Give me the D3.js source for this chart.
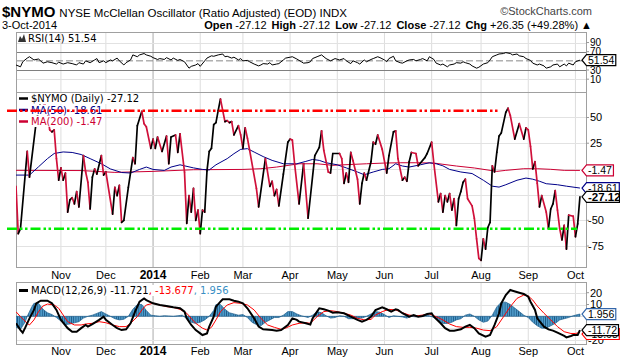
<!DOCTYPE html>
<html>
<head>
<meta charset="utf-8">
<script src="https://cdn.jsdelivr.net/npm/d3@7"></script>
<style>
  body { margin: 0; background: #fff; }
  svg { display: block; }
  text { font-family: "Liberation Sans", Arial, sans-serif; }
  .leg { font-family: "DejaVu Sans", sans-serif; font-size: 10px; }
</style>
</head>
<body>
<svg id="chart" width="620" height="360"></svg>
<script>
// $NYMO daily, [session number from 4-Oct-2013, value], turning points
const nymo = [
  [0,-17],[1,-63],[2,-58],[5,17],[6,-8],[9,46],[11,66],[13,62],[14,55],[15,38],[16,36],[17,38],
  [18,10],[19,-11],[20,1],[21,-11],[22,-4],[23,-42],[24,-30],[25,-28],[26,-34],[27,-22],[28,-37],
  [30,13],[31,-3],[32,-13],[33,-39],[34,-8],[35,0],[36,-5],[38,13],[39,-6],[40,-3],[43,-44],
  [44,-18],[45,-26],[46,-16],[47,-52],[48,-50],[50,-18],[52,11],[53,5],[54,42],[56,56],[57,44],
  [58,41],[60,20],[61,29],[62,20],[63,31],[65,17],[67,32],[68,5],[69,31],[71,33],[72,16],[73,34],
  [75,-3],[76,-53],[77,-26],[78,-42],[79,-19],[80,-50],[81,-40],[82,-63],[83,-40],[84,-42],[85,-2],
  [86,17],[87,20],[88,43],[89,45],[90,57],[91,68],[92,57],[93,46],[94,47],[95,45],[96,46],[97,33],
  [99,42],[100,33],[101,20],[102,40],[103,30],[104,18],[107,-19],[108,-37],[111,10],[113,-17],
  [114,-12],[115,-26],[116,-20],[117,-36],[119,-5],[121,26],[122,29],[123,28],[124,5],[126,-34],
  [128,5],[130,-48],[133,13],[135,21],[136,37],[137,18],[139,-3],[140,-4],[141,15],[144,15],
  [145,10],[146,-14],[147,-4],[148,-13],[149,16],[150,8],[152,-10],[153,-34],[154,-14],[155,-4],
  [156,-11],[158,7],[159,26],[160,24],[161,33],[163,19],[165,-4],[166,13],[168,36],[169,37],
  [170,10],[172,-11],[173,-8],[174,-12],[175,7],[176,16],[178,15],[179,3],[182,11],[183,15],
  [185,26],[186,5],[188,-32],[189,-24],[190,-42],[191,-26],[192,-32],[193,-24],[194,-40],[195,-29],
  [196,-55],[197,-29],[198,-22],[199,-13],[200,-10],[201,-29],[203,-36],[204,-48],[205,-68],
  [206,-87],[207,-89],[208,-68],[209,-78],[210,-57],[211,-52],[212,3],[213,-3],[214,16],[215,32],
  [216,35],[218,55],[219,59],[220,52],[222,29],[224,44],[226,29],[227,40],[228,38],[229,22],
  [230,0],[231,7],[232,-14],[233,-37],[234,-26],[236,-42],[237,-58],[238,-39],[239,-34],[240,-21],
  [241,-40],[242,-58],[243,-69],[244,-55],[245,-78],[246,-45],[248,-46],[249,-66],[250,-53.47],
  [251,-27.12]
];

const ma50 = [
  [0,-6],[6,-6],[10,2],[14,10],[17,15],[21,16.5],[25,16],[29,14],[33,10],[38,5],[42,0],[47,-3.5],
  [51,-4],[55,-0.5],[58,1.8],[61,-0.5],[66,-1.5],[69,1.8],[73,4],[79,1],[83,-0.5],[86,-1],[89,4],
  [94,10],[97,14.8],[100,19],[103,19.7],[106,16.4],[110,12],[114,8.3],[119,5],[125,5],[129,7.3],
  [132,9.2],[135,8.3],[138,6],[143,4],[147,1],[152,-3],[155,-5.7],[159,-3],[163,-0.5],[166,0.2],
  [169,5],[172,2.8],[175,1.8],[180,4],[184,6],[187,5],[190,3],[193,-0.5],[198,-3],[203,-4.5],
  [208,-11],[212,-16.8],[215,-17.7],[218,-15.4],[223,-11],[227,-8.9],[230,-10],[233,-12],
  [236,-14.4],[241,-15.4],[245,-16.8],[251,-18.61]
];

const ma200 = [
  [0,-1.4],[29,-1.6],[44,-3.4],[51,-3],[61,-2.4],[79,-0.8],[101,-0.5],[109,0.2],[116,1.8],
  [126,5],[134,5],[141,3.5],[156,5],[164,5.7],[171,6],[178,6],[186,5.7],[190,4.5],[196,2.8],
  [204,0.9],[211,-1.4],[214,-2.4],[218,-1.4],[226,0.2],[232,0.2],[238,-0.4],[244,-1.4],[251,-1.47]
];

// user drawn horizontal lines: value, first and last session
const annotations = [
  { value: 56.6, from: -4, to: 215.5, color: '#ff0000' },
  { value: -58.2, from: -4, to: 249.7, color: '#00ee00' }
];

const rsi = [
  [0,41],[2,37],[3,48],[5,56],[6,59],[8,52],[10,54],[11,50],[12,45],[14,48],[16,46],[18,43],
  [19,47],[21,43],[23,46],[25,44],[27,41],[28,46],[30,43],[31,50],[33,46],[35,52],[36,55],[37,46],
  [39,50],[40,46],[42,52],[43,50],[45,56],[46,50],[48,41],[49,46],[51,52],[52,63],[54,59],[55,63],
  [57,66],[58,63],[60,60],[61,57],[63,53],[64,55],[66,53],[67,57],[69,52],[70,56],[72,51],[73,53],
  [75,48],[76,41],[77,34],[78,38],[80,41],[81,44],[82,38],[84,50],[85,56],[87,61],[88,60],[90,63],
  [92,65],[93,59],[94,60],[96,56],[97,58],[99,52],[100,55],[101,50],[103,51],[104,48],[106,43],
  [108,39],[109,41],[110,44],[112,43],[113,46],[114,41],[116,43],[117,44],[119,52],[120,56],
  [122,58],[123,59],[125,54],[127,48],[128,45],[130,46],[131,48],[132,55],[134,59],[136,63],
  [138,55],[140,50],[142,55],[144,52],[146,55],[147,50],[149,44],[150,50],[152,46],[153,43],
  [155,52],[156,48],[158,53],[159,55],[161,59],[162,57],[164,52],[165,48],[166,55],[168,60],
  [169,50],[171,46],[172,45],[174,50],[175,52],[177,53],[178,50],[180,53],[181,55],[183,50],
  [184,59],[186,53],[187,45],[189,41],[190,43],[192,37],[193,41],[195,43],[196,46],[198,45],
  [199,48],[200,46],[202,43],[203,39],[205,34],[206,36],[208,43],[210,46],[211,52],[212,59],
  [214,63],[215,65],[217,66],[218,68],[220,66],[221,63],[223,65],[224,61],[226,59],[227,55],
  [229,51],[230,45],[232,41],[233,43],[235,39],[236,34],[238,37],[239,41],[241,43],[242,37],
  [244,43],[245,39],[246,45],[248,41],[249,48],[251,51.54]
];

const macd = [
  [0,-5.9],[2,-11.6],[3,-13.8],[4,-10],[6,-1.7],[8,5.4],[9,11],[11,13.2],[14,13.2],[16,11],
  [18,5.4],[20,-3],[23,-10],[25,-13],[27,-13],[29,-10],[31,-7.3],[32,-8.7],[34,-6.5],[37,-3],
  [39,-0.3],[40,-3],[43,-7.3],[45,-10],[47,-11.6],[49,-11],[51,-5.9],[53,4],[55,12.4],[57,15.2],
  [58,13.8],[61,11],[64,9.6],[67,8.7],[70,7.6],[73,6.8],[75,4],[76,-1.7],[78,-7.3],[80,-11.6],
  [82,-14.4],[83,-15.8],[85,-14.4],[86,-8.7],[88,-0.3],[89,8.2],[91,12.4],[92,14.4],[95,14.4],
  [97,13.2],[99,12.4],[101,11],[103,6.8],[106,-1.7],[108,-8.7],[110,-11],[114,-11.6],[116,-12.1],
  [118,-11.6],[121,-7.3],[123,-1.7],[125,-3],[126,-4.5],[129,-5.9],[131,-7],[132,-1.7],[134,4],
  [135,6.8],[137,6],[139,4.8],[141,3.1],[143,3.5],[146,2.6],[149,-0.3],[152,-3],[154,-4.5],
  [156,-3],[158,-0.3],[160,5.4],[163,7.6],[165,6],[167,4],[169,5.9],[170,5.5],[172,2.6],[175,-0.3],
  [177,1.1],[179,-0.3],[181,0.3],[183,2],[185,2.6],[186,-0.3],[189,-5.9],[191,-10],[193,-12.1],
  [195,-12.1],[198,-11],[200,-8.7],[202,-7.3],[204,-10],[206,-14.4],[209,-17.2],[211,-15.8],
  [213,-7.3],[215,2.6],[216,11],[218,18],[220,22.3],[221,21.7],[224,20],[226,18.9],[228,16.6],
  [229,12.4],[231,5.4],[232,-1.7],[235,-8.7],[237,-11],[239,-12.1],[241,-13.8],[244,-16.6],
  [245,-17.8],[247,-16.6],[248,-15.8],[250,-15.8],[251,-11.721]
];

const signal = [
  [0,3.9],[2,-0.3],[5,-5.9],[6,-7.3],[8,-3],[10,3.9],[12,8.7],[14,10.4],[17,9.6],[19,6.8],[21,1.1],
  [23,-4.5],[26,-7.3],[29,-7.3],[31,-6.5],[34,-5.9],[37,-4.5],[40,-5.4],[43,-7.3],[46,-8.7],
  [49,-8.7],[51,-5.9],[54,-0.3],[56,5.4],[58,9.6],[61,11],[64,9.6],[67,8.2],[70,7.6],[73,5.9],
  [76,2.6],[78,-1.7],[80,-5.9],[83,-10],[85,-11.6],[87,-9.3],[89,-3],[91,3.9],[94,9.6],[97,11.6],
  [100,11],[103,9.6],[106,5.4],[109,-1.7],[112,-7.3],[115,-9.3],[118,-11],[120,-10],[123,-7.3],
  [126,-5.9],[129,-5.4],[131,-5.9],[134,-0.3],[137,4],[140,4.8],[143,4],[146,2.6],[149,1.1],
  [152,-1.7],[155,-3],[158,-2.6],[160,1.1],[163,4],[166,5.9],[169,5.4],[172,3.1],[175,1.1],
  [178,0.3],[181,1.1],[184,2],[187,-0.3],[190,-3],[193,-6.5],[196,-8.7],[199,-9.3],[202,-9.3],
  [205,-10],[208,-11.6],[211,-12.1],[214,-8.7],[217,-0.3],[220,8.2],[223,15.2],[226,18],[228,17.2],
  [230,13.8],[232,8.7],[235,2.6],[238,-3],[241,-8.7],[244,-13],[247,-14.5],[249,-14.5],[251,-13.677]
];

const hist = [
  [0,-9],[2,-11],[4,-5],[5,0],[7,8],[8,11],[10,11],[12,6],[14,3],[16,1.5],[18,-1],[20,-4],[22,-7],
  [24,-6.5],[26,-5.5],[28,-4.5],[30,-1.5],[32,0],[34,1],[36,2.5],[38,4],[40,2],[42,0],[44,-2],
  [46,-3],[48,-2.5],[50,0],[52,6],[54,10],[56,10],[58,5],[60,1],[62,0.5],[64,0],[66,0.5],[68,0.3],
  [70,0],[72,0.5],[74,1],[76,-2],[78,-5],[80,-6],[82,-5],[84,-3],[86,0],[88,5],[89,10],[91,10],
  [93,6],[95,3],[97,2],[99,1],[101,1.5],[103,-1],[105,-5],[107,-7],[109,-8],[111,-5],[113,-3],
  [115,-1],[117,-1],[119,1],[121,4],[123,4],[125,2],[127,0.5],[129,-0.5],[130,-1],[132,1],[134,4],
  [136,3],[138,0.5],[140,-1.5],[142,-1],[144,0.5],[146,0],[148,-2],[150,-2],[152,-1.5],[154,-1.5],
  [156,0],[158,2],[160,4],[162,3.5],[164,1.5],[166,-1],[168,0.5],[170,0],[172,-0.5],[174,-1.5],
  [176,0],[178,-0.5],[180,0],[182,1],[184,0.5],[186,-1],[188,-4],[190,-6],[192,-6],[194,-5],
  [196,-3],[198,-2],[200,1],[202,2],[204,0],[206,-3],[208,-5],[210,-4],[212,1],[214,8],[216,12],
  [218,12],[220,10],[222,7],[224,4],[226,1],[228,-1],[230,-5],[232,-8],[234,-10],[236,-10],
  [238,-8],[240,-6],[242,-3],[244,-2],[246,-1],[248,0.5],[250,1.5],[251,1.956]
];

const mainTicks = [50, 25, 0, -25, -50, -75];
const rsiTicks = [90, 70, 30, 10];
const macdTicks = [20, 10, 0, -10, -20];
const holidays = ['2013-11-28','2013-12-25','2014-01-01','2014-01-20','2014-02-17',
                  '2014-04-18','2014-05-26','2014-07-04','2014-09-01'];

const svg = d3.select('#chart');
const L = 16, R = 586;
const P = { rsi: [32, 92], main: [92, 267], macd: [282, 344] };

// trading calendar -> month gridlines
const fmt = d3.timeFormat('%Y-%m-%d');
const sessions = d3.timeDay.range(new Date(2013, 9, 4), new Date(2014, 9, 4))
  .filter(d => d.getDay() % 6 !== 0 && !holidays.includes(fmt(d)));
const months = sessions.map((d, i) => ({ d, i }))
  .filter((s, k, a) => k > 0 && s.d.getMonth() !== a[k - 1].d.getMonth());

const x = d3.scaleLinear().domain([0, sessions.length - 1 + 2.7]).range([L, R]);
const yRsi = d3.scaleLinear().domain([-18, 113]).range([P.rsi[1], P.rsi[0]]);
const yMain = d3.scaleLinear().domain([-95.4, 74.8]).range([P.main[1], P.main[0]]);
const yMacd = d3.scaleLinear().domain([-23.4, 29.05]).range([P.macd[1], P.macd[0]]);
const step = x(1) - x(0);

const defs = svg.append('defs');
Object.entries(P).forEach(([k, p]) => {
  defs.append('clipPath').attr('id', 'clip-' + k).append('rect')
    .attr('x', L).attr('y', p[0]).attr('width', R - L).attr('height', p[1] - p[0]);
});
const pat = defs.append('pattern').attr('id', 'histPat').attr('patternUnits', 'userSpaceOnUse')
  .attr('x', x(0) - step / 2).attr('y', 0).attr('width', step).attr('height', 360);
pat.append('rect').attr('width', step).attr('height', 360).attr('fill', '#4f9ccb');
pat.append('rect').attr('width', 0.8).attr('height', 360).attr('fill', '#1c5884');

// ---- grid
const grid = svg.append('g');
[P.rsi, P.main, P.macd].forEach(p => {
  months.forEach(m => {
    grid.append('line').attr('x1', x(m.i)).attr('x2', x(m.i)).attr('y1', p[0]).attr('y2', p[1])
      .attr('stroke', m.d.getMonth() === 0 ? '#aaa' : '#ddd').attr('stroke-width', 1);
  });
});
function hgrid(scale, vals, color) {
  vals.forEach(v => grid.append('line').attr('x1', L).attr('x2', R)
    .attr('y1', Math.round(scale(v)) + 0.5).attr('y2', Math.round(scale(v)) + 0.5)
    .attr('stroke', color));
}
hgrid(yMain, mainTicks, '#e2e2e2');
hgrid(yMacd, macdTicks, '#e2e2e2');
hgrid(yRsi, [90, 10], '#e2e2e2');
hgrid(yRsi, [70, 30], '#808080');
grid.append('line').attr('x1', L).attr('x2', R).attr('y1', yRsi(50)).attr('y2', yRsi(50))
  .attr('stroke', '#888').attr('stroke-dasharray', '7,3');

// frames
const frame = svg.append('g').attr('stroke', '#a0a0a0').attr('fill', 'none');
[P.rsi, P.main, P.macd].forEach(p => {
  frame.append('rect').attr('x', L + 0.5).attr('y', p[0] + 0.5)
    .attr('width', R - L).attr('height', p[1] - p[0]);
});

const line = (sx, sy) => d3.line().x(d => sx(d[0])).y(d => sy(d[1]));

// ---- RSI panel
svg.append('path').datum(rsi).attr('d', line(x, yRsi)).attr('fill', 'none')
  .attr('stroke', '#000').attr('stroke-width', 1).attr('clip-path', 'url(#clip-rsi)');

// ---- main panel
const gm = svg.append('g').attr('clip-path', 'url(#clip-main)');
gm.append('path').datum(ma200).attr('d', line(x, yMain)).attr('fill', 'none')
  .attr('stroke', '#cc0033').attr('stroke-width', 1);
gm.append('path').datum(ma50).attr('d', line(x, yMain)).attr('fill', 'none')
  .attr('stroke', '#000088').attr('stroke-width', 1);
gm.selectAll('line.seg').data(d3.pairs(nymo)).join('line').attr('class', 'seg')
  .attr('x1', d => x(d[0][0])).attr('y1', d => yMain(d[0][1]))
  .attr('x2', d => x(d[1][0])).attr('y2', d => yMain(d[1][1]))
  .attr('stroke', d => d[1][1] >= d[0][1] ? '#000' : '#d0103a')
  .attr('stroke-width', 1.7).attr('stroke-linecap', 'round');

// ---- MACD panel
const gd = svg.append('g').attr('clip-path', 'url(#clip-macd)');
gd.append('path').datum(hist)
  .attr('d', d3.area().x(d => x(d[0])).y0(yMacd(0)).y1(d => yMacd(d[1])))
  .attr('fill', 'url(#histPat)').attr('stroke', '#1f5f8c').attr('stroke-width', 0.7);
gd.append('path').datum(signal).attr('d', line(x, yMacd)).attr('fill', 'none')
  .attr('stroke', '#ff0000').attr('stroke-width', 1);
gd.append('path').datum(macd).attr('d', line(x, yMacd)).attr('fill', 'none')
  .attr('stroke', '#000').attr('stroke-width', 2);

// ---- legends
function legendRow(yb, marker, parts, markerW) {
  const g = svg.append('g');
  const bg = g.append('rect').attr('fill', '#fff');
  if (marker) g.append('line').attr('x1', 19).attr('x2', 28).attr('y1', yb - 3.5).attr('y2', yb - 3.5)
    .attr('stroke', marker).attr('stroke-width', markerW || 2.5);
  const t = g.append('text').attr('class', 'leg').attr('x', 31).attr('y', yb);
  parts.forEach(p => t.append('tspan').attr('fill', p[1]).text(p[0]));
  const w = t.node().getComputedTextLength();
  bg.attr('x', 17).attr('y', yb - 9).attr('width', w + 16).attr('height', 11);
}
legendRow(102, '#000', [['$NYMO (Daily) -27.12', '#000']]);
legendRow(113.5, '#000088', [['MA(50) -18.61', '#000088']]);
legendRow(125, '#cc0033', [['MA(200) -1.47', '#cc0033']]);
legendRow(294, '#000', [['MACD(12,26,9) -11.721', '#000'], [', -13.677', '#ff0000'], [', 1.956', '#3a8fc4']], 3);

// RSI legend with small mountain icon
svg.append('path').attr('d', 'M18,42 L20,36 L22,39 L24,34 L26,42 Z').attr('fill', '#333');
svg.append('text').attr('class', 'leg').attr('x', 28).attr('y', 42).text('RSI(14) 51.54');

// ---- annotation lines (drawn over the legend)
svg.selectAll('line.ann').data(annotations).join('line').attr('class', 'ann')
  .attr('x1', d => x(d.from)).attr('x2', d => x(d.to))
  .attr('y1', d => yMain(d.value)).attr('y2', d => yMain(d.value))
  .attr('stroke', d => d.color).attr('stroke-width', 2.5)
  .attr('stroke-dasharray', '10,3,2.5,2.5,2.5,3');

// ---- right axis: value boxes per panel, plain tick labels where no box sits
const boxes = [
  { panel: 'rsi', v: 51.54, label: '51.54', color: '#000' },
  { panel: 'main', v: -1.47, label: '-1.47', color: '#cc0033' },
  { panel: 'main', v: -18.61, label: '-18.61', color: '#000088' },
  { panel: 'main', v: -27.12, label: '-27.12', color: '#000', bold: true },
  { panel: 'macd', v: -13.677, label: '-13.68', color: '#ff0000', shift: 1.5 },
  { panel: 'macd', v: 1.956, label: '1.956', color: '#3366aa' },
  { panel: 'macd', v: -11.721, label: '-11.72', color: '#000' }
];
const scales = { rsi: yRsi, main: yMain, macd: yMacd };

const ax = svg.append('g').attr('fill', '#000');
function ticks(panel, vals, size) {
  const s = scales[panel];
  vals.forEach(v => {
    ax.append('line').attr('x1', R).attr('x2', R + 3).attr('y1', s(v)).attr('y2', s(v))
      .attr('stroke', '#999');
    const hidden = boxes.some(b => b.panel === panel && Math.abs(s(b.v) - s(v)) < 4);
    if (hidden) return;
    ax.append('text').attr('x', v < 0 ? 588 : 590).attr('y', s(v)).attr('dy', '0.36em')
      .style('font-size', size).text(v < 0 ? '-' + Math.abs(v) : v);
  });
}
ticks('rsi', rsiTicks, '10px');
ticks('main', mainTicks, '11px');
ticks('macd', macdTicks, '11px');

boxes.forEach(b => {
  const y = scales[b.panel](b.v) + (b.shift || 0);
  const g = svg.append('g');
  const path = g.append('path');
  const t = g.append('text').attr('x', 588).attr('y', y).attr('dy', '0.36em')
    .style('font-size', b.bold ? '11.5px' : '10.5px').style('font-weight', b.bold ? 'bold' : 'normal')
    .attr('fill', '#000').text(b.label);
  const w = t.node().getComputedTextLength();
  const r = Math.min(619.5, 588 + w + 1.5), h = 5.5;
  path.attr('d', `M582,${y} L586.5,${y - h} L${r},${y - h} L${r},${y + h} L586.5,${y + h} Z`)
    .attr('fill', '#fff').attr('stroke', b.color).attr('stroke-width', 1.2);
});

// ---- month labels (above and below the MACD panel)
[279, 355].forEach(yb => {
  svg.append('g').selectAll('text').data(months).join('text')
    .attr('x', d => x(d.i)).attr('y', yb).attr('text-anchor', 'middle')
    .style('font-size', d => d.d.getMonth() === 0 ? '12px' : '11px')
    .style('font-weight', d => d.d.getMonth() === 0 ? 'bold' : 'normal')
    .text(d => d.d.getMonth() === 0 ? d.d.getFullYear() : d3.timeFormat('%b')(d.d));
});

// ---- header
const h1 = svg.append('text').attr('x', 2).attr('y', 17);
h1.append('tspan').style('font-size', '15px').style('font-weight', 'bold').text('$NYMO');
h1.append('tspan').style('font-size', '11.5px').attr('dx', 4)
  .text('NYSE McClellan Oscillator (Ratio Adjusted) (EOD) INDX');
svg.append('text').attr('x', 592).attr('y', 15).attr('text-anchor', 'end')
  .style('font-size', '11px').attr('fill', '#444').text('\u00a9StockCharts.com');
svg.append('text').attr('x', 2).attr('y', 29).style('font-size', '11px').text('3-Oct-2014');
const quote = svg.append('text').attr('x', 592).attr('y', 29).attr('text-anchor', 'end')
  .style('font-size', '11px');
[['Open', '-27.12'], ['High', '-27.12'], ['Low', '-27.12'], ['Close', '-27.12'],
 ['Chg', '+26.35 (+49.28%) \u25b2']].forEach((q, i) => {
  quote.append('tspan').style('font-weight', 'bold').attr('dx', i ? 5 : 0).text(q[0]);
  quote.append('tspan').attr('dx', 3).text(q[1]);
});
</script>
</body>
</html>
